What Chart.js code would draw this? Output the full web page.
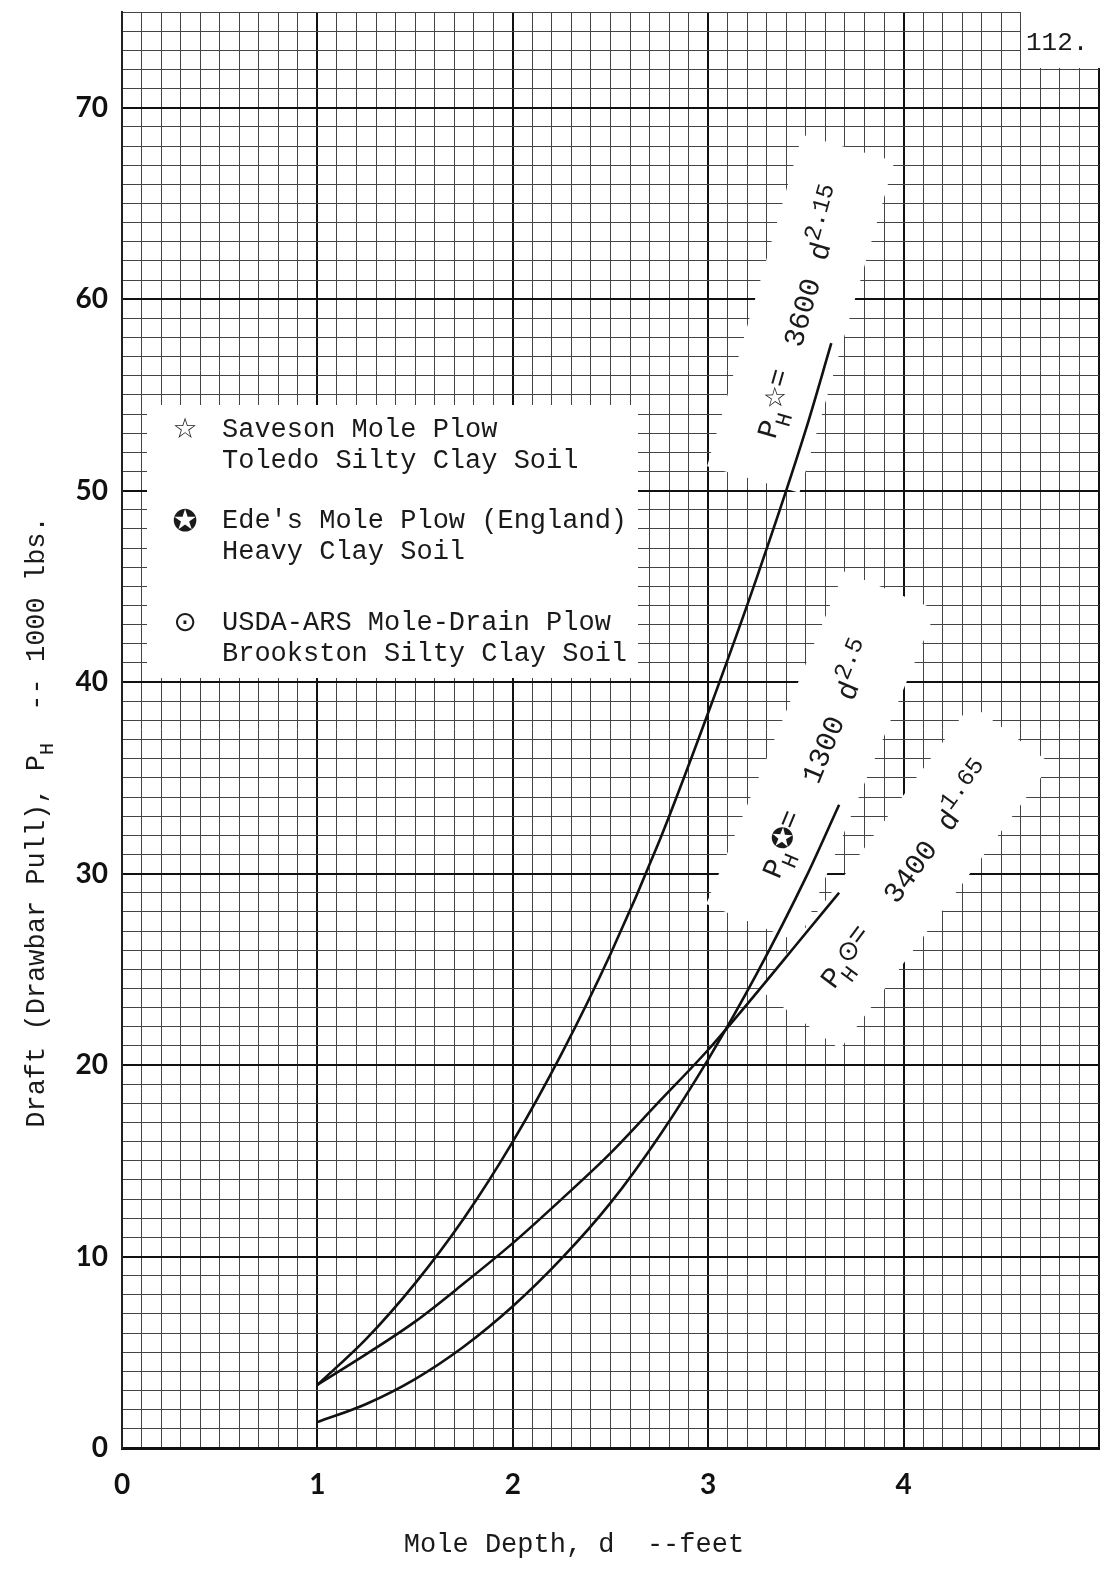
<!DOCTYPE html>
<html>
<head>
<meta charset="utf-8">
<title>Mole plow draft vs. depth</title>
<script src="https://cdn.jsdelivr.net/npm/chart.js@4/dist/chart.umd.min.js"></script>
<style>
  html, body { margin: 0; padding: 0; background: #fff; }
  #wrap { width: 1102px; height: 1569px; }
</style>
</head>
<body>
<div id="wrap"><canvas id="c" width="1102" height="1569"></canvas></div>
<script>
// Mole depth d (feet) and draft P_H (1000 lbs)
const savesonDepth = [1.0, 1.25, 1.5, 1.75, 2.0, 2.25, 2.5, 2.75, 3.0, 3.25, 3.5, 3.63];
const savesonDraft = [3.3, 5.7, 8.6, 12.0, 16.0, 20.6, 25.8, 31.7, 38.4, 45.5, 53.2, 57.7];

const edesDepth = [1.0, 1.25, 1.5, 1.75, 2.0, 2.25, 2.5, 2.75, 3.0, 3.25, 3.5, 3.67];
const edesDraft = [1.35, 2.3, 3.6, 5.3, 7.4, 9.9, 12.8, 16.3, 20.3, 24.8, 29.8, 33.6];

const usdaDepth = [1.0, 1.25, 1.5, 1.75, 2.0, 2.25, 2.5, 2.75, 3.0, 3.25, 3.5, 3.67];
const usdaDraft = [3.3, 4.9, 6.6, 8.6, 10.7, 13.0, 15.4, 18.1, 20.8, 23.8, 26.9, 29.0];

// Axis labels
const depthTickLabels = ['0', '1', '2', '3', '4'];
const draftTickLabels = ['0', '10', '20', '30', '40', '50', '60', '70'];

// Legend entries (symbol, two lines of text)
const legendSymbols = ['\u2606', '\u272A', '\u2299'];
const legendLine1 = ['Saveson Mole Plow', "Ede's Mole Plow (England)", 'USDA-ARS Mole-Drain Plow'];
const legendLine2 = ['Toledo Silty Clay Soil', 'Heavy Clay Soil', 'Brookston Silty Clay Soil'];

// Fitted equations P_H = a d^b written beside each curve
const fitCoef = ['3600', '1300', '3400'];
const fitExp = ['2.15', '2.5', '1.65'];

const MONO = '"Liberation Mono", "DejaVu Sans Mono", monospace';
const SYM = '"DejaVu Sans", sans-serif';
const TICKFONT = 'Lato, "Open Sans", sans-serif';

function pts(xs, ys) { return xs.map((x, i) => ({ x: x, y: ys[i] })); }
function isWhole(v) { return Math.abs(v - Math.round(v)) < 1e-6; }

// Draw a run of text pieces along the current baseline
function richText(ctx, parts) {
  let x = 0;
  for (const p of parts) {
    ctx.font = p.font;
    x += p.pre || 0;
    ctx.fillText(p.t, x, p.dy || 0);
    x += ctx.measureText(p.t).width + (p.gap || 0);
  }
  return x;
}

// Equation label placement: baseline start (px), angle (deg), spacing after "=",
// and the white patch in the label's own frame
const eqPlace = [
  { x: 775, y: 440, a: -74, sp: 26, patch: [-44, -58, 345, 96] },
  { x: 779, y: 880, a: -67.5, sp: 34, patch: [-50, -58, 360, 100] },
  { x: 834, y: 990, a: -53.5, sp: 38, patch: [-44, -60, 355, 100] }
];

const paper = {
  id: 'paper',
  beforeDraw(chart) {
    const ctx = chart.ctx;
    ctx.save();
    ctx.fillStyle = '#fff';
    ctx.fillRect(0, 0, chart.width, chart.height);
    ctx.restore();
  },
  beforeDatasetsDraw(chart) {
    const ctx = chart.ctx;
    ctx.save();
    ctx.fillStyle = '#fff';
    // legend panel
    ctx.fillRect(147, 405, 491, 273);
    // page number corner
    ctx.fillRect(1021, 0, 81, 68);
    // patches behind equation labels
    eqPlace.forEach(p => {
      ctx.save();
      ctx.translate(p.x, p.y);
      ctx.rotate(p.a * Math.PI / 180);
      ctx.fillRect(p.patch[0], p.patch[1], p.patch[2], p.patch[3]);
      ctx.restore();
    });
    ctx.restore();
  },
  afterDatasetsDraw(chart) {
    const ctx = chart.ctx;
    ctx.save();
    ctx.fillStyle = '#1a1a1a';
    ctx.textBaseline = 'alphabetic';
    ctx.textAlign = 'left';

    // legend
    const rows = [437, 528, 630];
    rows.forEach((y, i) => {
      ctx.font = (i === 1 ? '30px ' : '28px ') + SYM;
      ctx.textAlign = 'center';
      ctx.fillText(legendSymbols[i], 185, y + (i === 1 ? 3 : 1));
      ctx.textAlign = 'left';
      ctx.font = '27px ' + MONO;
      ctx.fillText(legendLine1[i], 222, y);
      ctx.fillText(legendLine2[i], 222, y + 31);
    });

    // equation labels
    eqPlace.forEach((p, i) => {
      ctx.save();
      ctx.translate(p.x, p.y);
      ctx.rotate(p.a * Math.PI / 180);
      richText(ctx, [
        { t: 'P', font: '29px ' + MONO },
        { t: 'H', font: '22px ' + MONO, dy: 10, pre: -2 },
        { t: legendSymbols[i], font: (i === 1 ? '28px ' : '27px ') + SYM, dy: -3, gap: 1 },
        { t: '=', font: '29px ' + MONO, dy: -5, pre: -2 },
        { t: fitCoef[i], font: '29px ' + MONO, pre: p.sp },
        { t: ' d', font: '29px ' + MONO, pre: 3 },
        { t: fitExp[i], font: '24px ' + MONO, dy: -13 }
      ]);
      ctx.restore();
    });

    // axis titles
    ctx.font = '27px ' + MONO;
    ctx.textAlign = 'center';
    ctx.fillText('Mole Depth, d  --feet', 574, 1552);

    ctx.save();
    ctx.translate(44, 822);
    ctx.rotate(-Math.PI / 2);
    ctx.textAlign = 'left';
    const yParts = [
      { t: 'Draft (Drawbar Pull), P', font: '27px ' + MONO },
      { t: 'H', font: '20px ' + MONO, dy: 9 },
      { t: '  -- 1000 lbs.', font: '27px ' + MONO }
    ];
    let w = 0;
    yParts.forEach(p => { ctx.font = p.font; w += ctx.measureText(p.t).width; });
    ctx.translate(-w / 2, 0);
    richText(ctx, yParts);
    ctx.restore();

    // page number
    ctx.font = '26px ' + MONO;
    ctx.textAlign = 'left';
    ctx.fillText('112.', 1026, 50);
    ctx.restore();
  }
};

const lineStyle = {
  borderColor: '#111',
  borderWidth: 2.6,
  pointRadius: 0,
  showLine: true,
  fill: false,
  cubicInterpolationMode: 'monotone'
};

function noPad(s) {
  s.paddingTop = 0;
  s.paddingBottom = 0;
  s.paddingLeft = 0;
  s.paddingRight = 0;
}

new Chart(document.getElementById('c'), {
  type: 'scatter',
  data: {
    datasets: [
      Object.assign({ label: legendLine1[0], data: pts(savesonDepth, savesonDraft) }, lineStyle),
      Object.assign({ label: legendLine1[1], data: pts(edesDepth, edesDraft) }, lineStyle),
      Object.assign({ label: legendLine1[2], data: pts(usdaDepth, usdaDraft) }, lineStyle)
    ]
  },
  options: {
    responsive: false,
    animation: false,
    devicePixelRatio: 1,
    layout: { padding: { top: 12, right: 3, left: 0, bottom: 0 } },
    plugins: { legend: { display: false }, tooltip: { enabled: false } },
    scales: {
      x: {
        type: 'linear',
        min: 0,
        max: 5,
        afterFit(s) { s.height = 121; noPad(s); },
        border: { display: true, color: '#111', width: 3 },
        grid: {
          drawTicks: false,
          color: c => isWhole(c.tick.value) ? '#111' : '#444',
          lineWidth: c => isWhole(c.tick.value) ? 2 : 1
        },
        ticks: {
          stepSize: 0.1,
          maxTicksLimit: 1000,
          autoSkip: false,
          maxRotation: 0,
          padding: 20,
          color: '#111',
          font: { family: TICKFONT, weight: 'bold', size: 28 },
          callback: v => {
            if (!isWhole(v)) return '';
            const i = Math.round(v);
            return i < depthTickLabels.length ? depthTickLabels[i] : '';
          }
        }
      },
      y: {
        type: 'linear',
        min: 0,
        max: 75,
        afterFit(s) { s.width = 122; noPad(s); },
        border: { display: true, color: '#222', width: 2 },
        grid: {
          drawTicks: false,
          color: c => (Math.round(c.tick.value) % 10 === 0) ? '#111' : '#444',
          lineWidth: c => (Math.round(c.tick.value) % 10 === 0) ? 2 : 1
        },
        ticks: {
          stepSize: 1,
          maxTicksLimit: 1000,
          autoSkip: false,
          padding: 14,
          color: '#111',
          font: { family: TICKFONT, weight: 'bold', size: 28 },
          callback: v => {
            const i = Math.round(v);
            if (i % 10 !== 0) return '';
            return i / 10 < draftTickLabels.length ? draftTickLabels[i / 10] : '';
          }
        }
      }
    }
  },
  plugins: [paper]
});
</script>
</body>
</html>
